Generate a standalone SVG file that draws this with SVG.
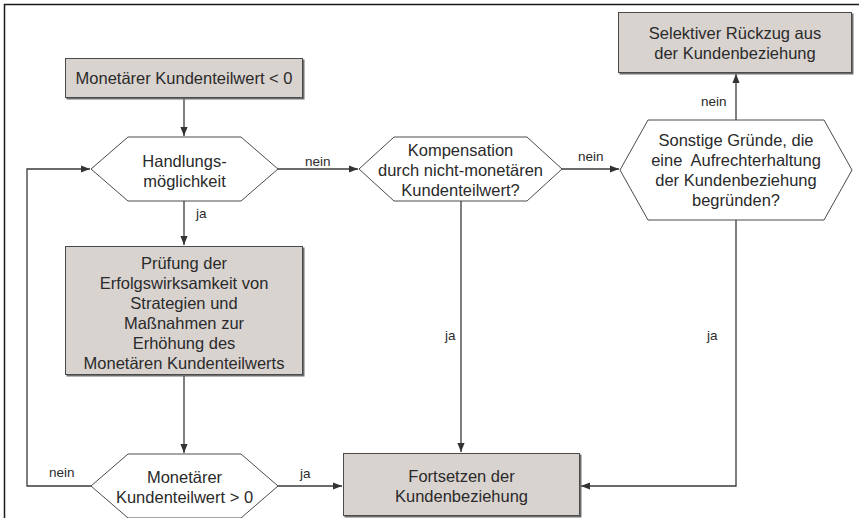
<svg xmlns="http://www.w3.org/2000/svg" width="859" height="518" viewBox="0 0 859 518">
<defs>
<style>
.box{fill:#d9d3d0;stroke:#4a4a4a;stroke-width:1}
.shadow{fill:#6e6e6e}
.hex{fill:#ffffff;stroke:#4a4a4a;stroke-width:1}
.t{font-family:"Liberation Sans",Arial,sans-serif;font-size:16.5px;fill:#2a2a2a;text-anchor:middle}
.l{font-family:"Liberation Sans",Arial,sans-serif;font-size:13.5px;fill:#2a2a2a}
.c{fill:none;stroke:#3a3a3a;stroke-width:1.3}
.frame{fill:none;stroke:#1a1a1a;stroke-width:1.5}
</style>
<marker id="ah" viewBox="0 0 10 10" refX="10" refY="5" markerWidth="9" markerHeight="9" markerUnits="userSpaceOnUse" orient="auto">
<path d="M0,1 L10,5 L0,9 Z" fill="#333"/>
</marker>
</defs>
<rect width="859" height="518" fill="#ffffff"/>
<path class="frame" d="M4.5,518 V4.5 H859"/>

<g id="connectors">
<path class="c" d="M184,98 V136" marker-end="url(#ah)"/>
<path class="c" d="M184,201 V245" marker-end="url(#ah)"/>
<path class="c" d="M184,376 V453" marker-end="url(#ah)"/>
<path class="c" d="M278,169 H358" marker-end="url(#ah)"/>
<path class="c" d="M562,169 H619" marker-end="url(#ah)"/>
<path class="c" d="M736,120 V74" marker-end="url(#ah)"/>
<path class="c" d="M461,201 V452" marker-end="url(#ah)"/>
<path class="c" d="M736,220 V486 H581" marker-end="url(#ah)"/>
<path class="c" d="M278,486 H342" marker-end="url(#ah)"/>
<path class="c" d="M91,486 H27 V169 H90" marker-end="url(#ah)"/>
<text class="l" x="305" y="166">nein</text>
<text class="l" x="578" y="161">nein</text>
<text class="l" x="701" y="106">nein</text>
<text class="l" x="196" y="218">ja</text>
<text class="l" x="445" y="340">ja</text>
<text class="l" x="707" y="340">ja</text>
<text class="l" x="49" y="477">nein</text>
<text class="l" x="300" y="478">ja</text>
</g>

<g id="start">
<rect class="shadow" x="66.5" y="59.5" width="238" height="40"/>
<rect class="box" x="65.5" y="58.5" width="237" height="39"/>
<text class="t" x="184" y="84">Monetärer Kundenteilwert &lt; 0</text>
</g>

<g id="handlung">
<polygon class="hex" points="91,169 128,137 241,137 278,169 241,201 128,201"/>
<text class="t" x="184.5" y="166.5">Handlungs-</text>
<text class="t" x="184.5" y="186.5">möglichkeit</text>
</g>

<g id="pruefung">
<rect class="shadow" x="66.5" y="247.5" width="238" height="129"/>
<rect class="box" x="65.5" y="246.5" width="237" height="128"/>
<text class="t" x="184" y="269">Prüfung der</text>
<text class="t" x="184" y="289">Erfolgswirksamkeit von</text>
<text class="t" x="184" y="309">Strategien und</text>
<text class="t" x="184" y="329">Maßnahmen zur</text>
<text class="t" x="184" y="349">Erhöhung des</text>
<text class="t" x="184" y="369">Monetären Kundenteilwerts</text>
</g>

<g id="monetaer">
<polygon class="hex" points="91,486 128,454 241,454 278,486 241,518 128,518"/>
<text class="t" x="184.5" y="483">Monetärer</text>
<text class="t" x="184.5" y="503">Kundenteilwert &gt; 0</text>
</g>

<g id="kompensation">
<polygon class="hex" points="359,169 394,137 527,137 562,169 527,201 394,201"/>
<text class="t" x="460.5" y="156">Kompensation</text>
<text class="t" x="460.5" y="176">durch nicht-monetären</text>
<text class="t" x="460.5" y="196">Kundenteilwert?</text>
</g>

<g id="sonstige">
<polygon class="hex" points="620,170 648,120 824,120 852,170 824,220 648,220"/>
<text class="t" x="736" y="146">Sonstige Gründe, die</text>
<text class="t" x="736" y="166" xml:space="preserve">eine  Aufrechterhaltung</text>
<text class="t" x="736" y="186">der Kundenbeziehung</text>
<text class="t" x="736" y="206">begründen?</text>
</g>

<g id="rueckzug">
<rect class="shadow" x="619.5" y="13.5" width="234" height="61"/>
<rect class="box" x="618.5" y="12.5" width="233" height="60"/>
<text class="t" x="735" y="39">Selektiver Rückzug aus</text>
<text class="t" x="735" y="59">der Kundenbeziehung</text>
</g>

<g id="fortsetzen">
<rect class="shadow" x="344.5" y="454.5" width="237" height="63"/>
<rect class="box" x="343.5" y="453.5" width="236" height="62"/>
<text class="t" x="461.5" y="482">Fortsetzen der</text>
<text class="t" x="461.5" y="502">Kundenbeziehung</text>
</g>
</svg>
